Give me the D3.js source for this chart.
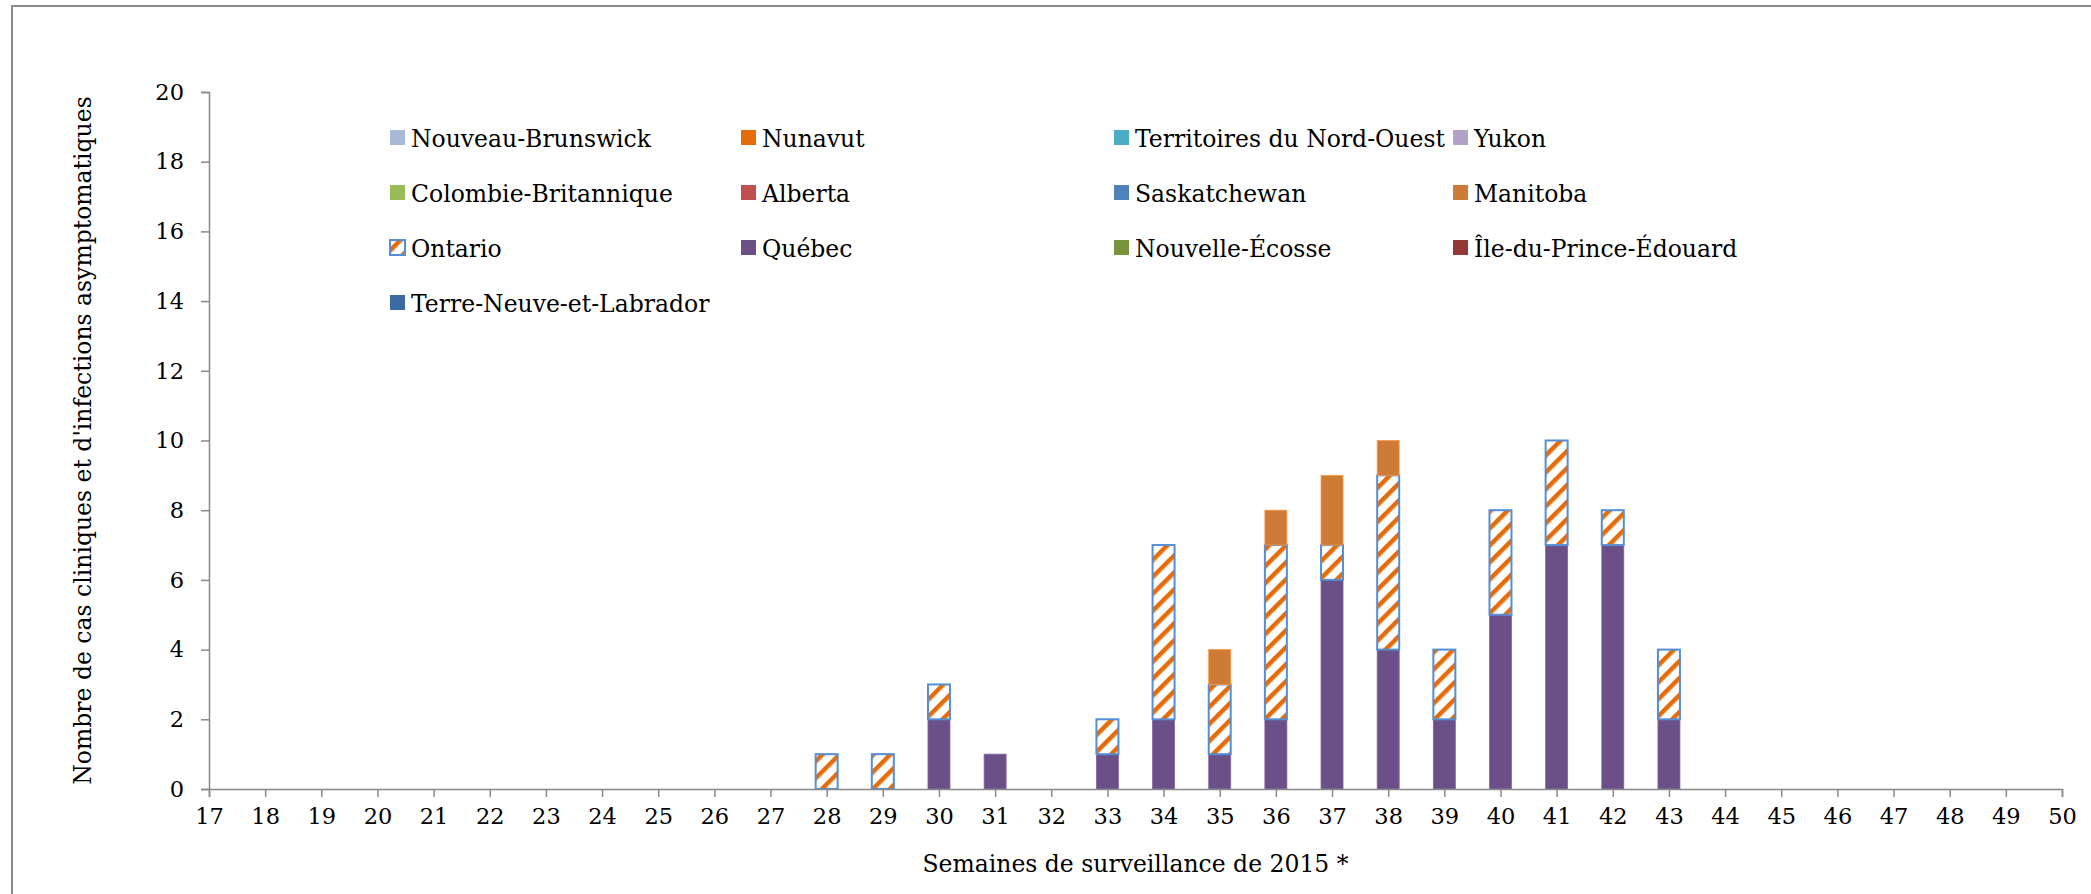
<!DOCTYPE html>
<html>
<head>
<meta charset="utf-8">
<script src="https://cdn.jsdelivr.net/npm/d3@7"></script>
<style>
  body { margin: 0; background: #fff; }
  text { font-family: "DejaVu Serif", "Liberation Serif", serif; fill: #000; }
</style>
</head>
<body>
<script>

// weeks 17 .. 50
const weeks = d3.range(17, 51);
const yTicks = [0, 2, 4, 6, 8, 10, 12, 14, 16, 18, 20];

// legend order (as drawn in the reference)
const legendNames = ["Nouveau-Brunswick", "Nunavut", "Territoires du Nord-Ouest", "Yukon",
  "Colombie-Britannique", "Alberta", "Saskatchewan", "Manitoba",
  "Ontario", "Québec", "Nouvelle-Écosse", "Île-du-Prince-Édouard",
  "Terre-Neuve-et-Labrador"];

const colors = ["#a9b9d8", "#e46c0a", "#4bacc6", "#b3a2c7",
  "#9bbb59", "#c0504d", "#4f81bd", "#cd7b37",
  "url(#hatch)", "#6a5087", "#77933c", "#953735",
  "#3c6aa5"];

// cases per week, only non-zero provinces
const quebecWeeks   = [30, 31, 33, 34, 35, 36, 37, 38, 39, 40, 41, 42, 43];
const quebecCases   = [2, 1, 1, 2, 1, 2, 6, 4, 2, 5, 7, 7, 2];
const ontarioWeeks  = [28, 29, 30, 33, 34, 35, 36, 37, 38, 39, 40, 41, 42, 43];
const ontarioCases  = [1, 1, 1, 1, 5, 2, 5, 1, 5, 2, 3, 3, 1, 2];
const manitobaWeeks = [35, 36, 37, 38];
const manitobaCases = [1, 1, 2, 1];

let margin = null, width = null, height = null;
let svg = null, root = null;
let x, y = null;
let table = null, stackKeys = null;

main();

function main() {
  setupCanvasSize();
  appendSvg("body");
  buildTable();
  setupXScale();
  setupYScale();
  appendBorder();
  appendBars();
  appendXAxis();
  appendYAxis();
  appendLegend();
  addTitles();
}

function setupCanvasSize() {
  margin = { top: 92, left: 209, bottom: 105, right: 29 };
  width = 2091 - margin.left - margin.right;
  height = 894 - margin.top - margin.bottom;
}

function appendSvg(domElement) {
  root = d3.select(domElement).append("svg")
    .attr("width", 2091)
    .attr("height", 894);

  const defs = root.append("defs");
  const p = defs.append("pattern")
    .attr("id", "hatch")
    .attr("patternUnits", "userSpaceOnUse")
    .attr("width", 12)
    .attr("height", 12)
    .attr("patternTransform", "rotate(45)");
  p.append("rect").attr("width", 12).attr("height", 12).attr("fill", "#fff");
  p.append("rect").attr("x", 0).attr("width", 4.5).attr("height", 12).attr("fill", "#e46c0a");

  svg = root.append("g")
    .attr("transform", `translate(${margin.left}, ${margin.top})`);
}

function buildTable() {
  // bottom-up stacking order is the legend reversed
  stackKeys = legendNames.slice().reverse();
  table = weeks.map(function (w) {
    const row = { week: w };
    stackKeys.forEach(function (k) { row[k] = 0; });
    quebecWeeks.forEach(function (qw, i) { if (qw === w) row["Québec"] = quebecCases[i]; });
    ontarioWeeks.forEach(function (ow, i) { if (ow === w) row["Ontario"] = ontarioCases[i]; });
    manitobaWeeks.forEach(function (mw, i) { if (mw === w) row["Manitoba"] = manitobaCases[i]; });
    return row;
  });
}

function setupXScale() {
  x = d3.scaleLinear()
    .range([0, width])
    .domain([17, 50]);
}

function setupYScale() {
  y = d3.scaleLinear()
    .range([height, 0])
    .domain([0, 20]);
}

function appendBorder() {
  root.append("rect")
    .attr("x", 12)
    .attr("y", 6)
    .attr("width", 2200)
    .attr("height", 1000)
    .attr("fill", "none")
    .attr("stroke", "#8c8c8c")
    .attr("stroke-width", 2);
}

function appendBars() {
  const series = d3.stack().keys(stackKeys)(table);
  const barW = 22;

  series.forEach(function (s) {
    const name = s.key;
    const fill = colors[legendNames.indexOf(name)];
    const isOntario = name === "Ontario";
    svg.append("g")
      .selectAll("rect")
      .data(s.filter(function (d) { return d[1] - d[0] > 0; }))
      .enter()
      .append("rect")
      .attr("x", function (d) { return x(d.data.week) - barW / 2; })
      .attr("y", function (d) { return y(d[1]); })
      .attr("width", barW)
      .attr("height", function (d) { return y(d[0]) - y(d[1]); })
      .attr("fill", fill)
      .attr("stroke", isOntario ? "#558ed5" : d3.color(fill).brighter(0.6))
      .attr("stroke-width", isOntario ? 2 : 0.8);
  });
}

function appendXAxis() {
  const g = svg.append("g")
    .attr("transform", `translate(0, ${height})`)
    .call(d3.axisBottom(x).tickValues(weeks).tickFormat(d3.format("d")).tickSize(8).tickSizeOuter(8));
  styleAxis(g);
  g.selectAll(".tick text").attr("dy", "1.05em").attr("y", 11);
}

function appendYAxis() {
  const g = svg.append("g")
    .call(d3.axisLeft(y).tickValues(yTicks).tickSize(8).tickSizeOuter(8));
  styleAxis(g);
  g.selectAll(".tick text").attr("x", -25);
}

function styleAxis(g) {
  g.select(".domain").attr("stroke", "#898989").attr("stroke-width", 1.5);
  g.selectAll(".tick line").attr("stroke", "#898989").attr("stroke-width", 1.5);
  g.selectAll(".tick text")
    .style("font-family", '"DejaVu Serif", serif')
    .style("font-size", "22.5px")
    .attr("fill", "#000");
}

function appendLegend() {
  const colX = [390, 741, 1114, 1453];
  const rowY = [137.5, 192.5, 247.5, 302.5];
  const items = root.append("g").selectAll("g")
    .data(legendNames)
    .enter()
    .append("g")
    .attr("transform", function (d, i) { return `translate(${colX[i % 4]}, ${rowY[Math.floor(i / 4)]})`; });

  items.append("rect")
    .attr("x", 0)
    .attr("y", -7.5)
    .attr("width", 15)
    .attr("height", 15)
    .attr("fill", function (d, i) { return colors[i]; })
    .attr("stroke", function (d) { return d === "Ontario" ? "#558ed5" : "none"; })
    .attr("stroke-width", 2);

  items.append("text")
    .attr("x", 21)
    .attr("y", 9)
    .style("font-size", "23.5px")
    .text(function (d) { return d; });
}

function addTitles() {
  root.append("text")
    .attr("x", margin.left + width / 2)
    .attr("y", 872)
    .attr("text-anchor", "middle")
    .style("font-size", "23.5px")
    .text("Semaines de surveillance de 2015 *");

  root.append("text")
    .attr("transform", `translate(91, ${margin.top + height / 2}) rotate(-90)`)
    .attr("text-anchor", "middle")
    .style("font-size", "23.5px")
    .text("Nombre de cas cliniques et d'infections asymptomatiques");
}

</script>
</body>
</html>
